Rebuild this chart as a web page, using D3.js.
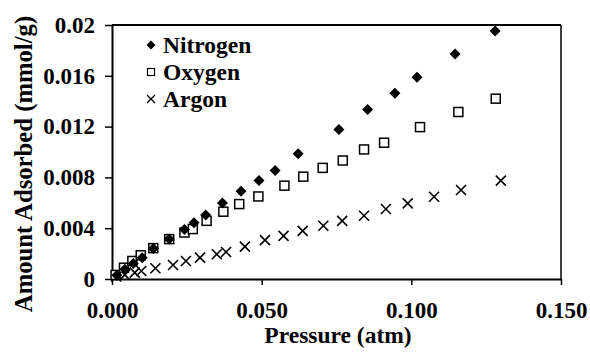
<!DOCTYPE html>
<html><head><meta charset="utf-8">
<script src="https://cdn.jsdelivr.net/npm/d3@7"></script>
<style>body{margin:0;background:#fff}svg{display:block}</style>
</head><body>
<svg id="c" width="590" height="358"></svg>
<script>
const nitrogenP = [0.0016,0.0043,0.0071,0.0101,0.0138,0.0191,0.0242,0.0274,0.0313,0.0369,0.0431,0.0491,0.0545,0.0622,0.0758,0.0854,0.0945,0.1019,0.1146,0.1280];
const nitrogenA = [0.00030,0.00077,0.00122,0.00168,0.00240,0.00314,0.00390,0.00443,0.00503,0.00598,0.00690,0.00775,0.00854,0.00986,0.01178,0.01334,0.01462,0.01589,0.01771,0.01953];
const oxygenP = [0.0012,0.0040,0.0068,0.0096,0.0138,0.0191,0.0242,0.0270,0.0316,0.0372,0.0425,0.0489,0.0576,0.0639,0.0704,0.0771,0.0842,0.0909,0.1029,0.1157,0.1282];
const oxygenA = [0.00032,0.00089,0.00142,0.00187,0.00243,0.00314,0.00366,0.00393,0.00458,0.00530,0.00590,0.00650,0.00735,0.00806,0.00875,0.00933,0.01020,0.01073,0.01196,0.01315,0.01420];
const argonP = [0.0014,0.0043,0.0076,0.0098,0.0145,0.0204,0.0247,0.0294,0.0350,0.0381,0.0444,0.0511,0.0573,0.0637,0.0706,0.0769,0.0842,0.0915,0.0988,0.1076,0.1166,0.1299];
const argonA = [0.00020,0.00032,0.00050,0.00063,0.00085,0.00110,0.00142,0.00168,0.00195,0.00213,0.00255,0.00306,0.00340,0.00379,0.00419,0.00458,0.00498,0.00551,0.00595,0.00648,0.00701,0.00775];
const xTicks = [0, 0.05, 0.10, 0.15];
const xTickLabels = ["0.000","0.050","0.100","0.150"];
const yTicks = [0, 0.004, 0.008, 0.012, 0.016, 0.02];
const yTickLabels = ["0","0.004","0.008","0.012","0.016","0.02"];
const seriesNames = ["Nitrogen","Oxygen","Argon"];

const svg = d3.select("#c");
const L = 112, R = 561, T = 25, B = 279;
const x = d3.scaleLinear().domain([0, 0.15]).range([L, R]);
const y = d3.scaleLinear().domain([0, 0.02]).range([B, T]);
const styleText = sel => sel.style("font-family", '"Liberation Serif"').style("font-weight", "bold").style("fill", "#000");

// frame top/right
svg.append("line").attr("x1",L).attr("x2",R).attr("y1",T).attr("y2",T).attr("stroke","#000").attr("stroke-width",2);
svg.append("line").attr("x1",R).attr("x2",R).attr("y1",T).attr("y2",B).attr("stroke","#000").attr("stroke-width",1.5);

// axes
const xAxis = d3.axisBottom(x).tickValues(xTicks).tickFormat((d,i)=>xTickLabels[i]).tickSize(6).tickSizeOuter(0).tickPadding(17);
const gx = svg.append("g").attr("transform",`translate(0,${B})`).call(xAxis);
gx.attr("font-family", null);
gx.select(".domain").attr("stroke","#000").attr("stroke-width",2);
gx.selectAll(".tick line").attr("stroke","#000").attr("stroke-width",1.5);
gx.selectAll(".tick text").attr("font-size",23).attr("dy","0.71em").call(styleText);

const yAxis = d3.axisLeft(y).tickValues(yTicks).tickFormat((d,i)=>yTickLabels[i]).tickSize(7).tickSizeOuter(0).tickPadding(10);
const gy = svg.append("g").attr("transform",`translate(${L},0)`).call(yAxis);
gy.attr("font-family", null);
gy.select(".domain").attr("stroke","#000").attr("stroke-width",2);
gy.selectAll(".tick line").attr("stroke","#000").attr("stroke-width",1.5);
gy.selectAll(".tick text").attr("font-size",23).call(styleText);

// markers
const diamond = (cx,cy,r)=>`M${cx},${cy-r}L${cx+r},${cy}L${cx},${cy+r}L${cx-r},${cy}Z`;
const cross = (cx,cy,r)=>`M${cx-r},${cy-r}L${cx+r},${cy+r}M${cx-r},${cy+r}L${cx+r},${cy-r}`;

const gA = svg.append("g");
gA.selectAll("path").data(argonP.map((p,i)=>[p,argonA[i]])).join("path")
  .attr("d",d=>cross(x(d[0]),y(d[1]),5)).attr("stroke","#000").attr("stroke-width",1.6).attr("fill","none");
const gO = svg.append("g");
gO.selectAll("rect").data(oxygenP.map((p,i)=>[p,oxygenA[i]])).join("rect")
  .attr("x",d=>x(d[0])-4.5).attr("y",d=>y(d[1])-4.5).attr("width",9).attr("height",9)
  .attr("fill","#fff").attr("stroke","#000").attr("stroke-width",1.5);
const gN = svg.append("g");
gN.selectAll("path").data(nitrogenP.map((p,i)=>[p,nitrogenA[i]])).join("path")
  .attr("d",d=>diamond(x(d[0]),y(d[1]),5.5)).attr("fill","#000");

// legend
const lg = svg.append("g");
const ly = [45, 72, 99];
lg.append("path").attr("d",diamond(151,ly[0],4.5)).attr("fill","#000");
lg.append("rect").attr("x",147.5).attr("y",ly[1]-3.5).attr("width",7).attr("height",7).attr("fill","#fff").attr("stroke","#000").attr("stroke-width",1.2);
lg.append("path").attr("d",cross(151,ly[2],4)).attr("stroke","#000").attr("stroke-width",1.3);
seriesNames.forEach((n,i)=>{
  lg.append("text").attr("x",163).attr("y",ly[i]).attr("dy","0.35em").attr("font-size",23.5).call(styleText).text(n);
});

// axis titles
svg.append("text").attr("x",338).attr("y",343).attr("text-anchor","middle").attr("font-size",23.5).call(styleText).text("Pressure (atm)");
svg.append("text").attr("transform","translate(32,164) rotate(-90)").attr("text-anchor","middle").attr("font-size",24.7).call(styleText).text("Amount Adsorbed (mmol/g)");
</script>
</body></html>
